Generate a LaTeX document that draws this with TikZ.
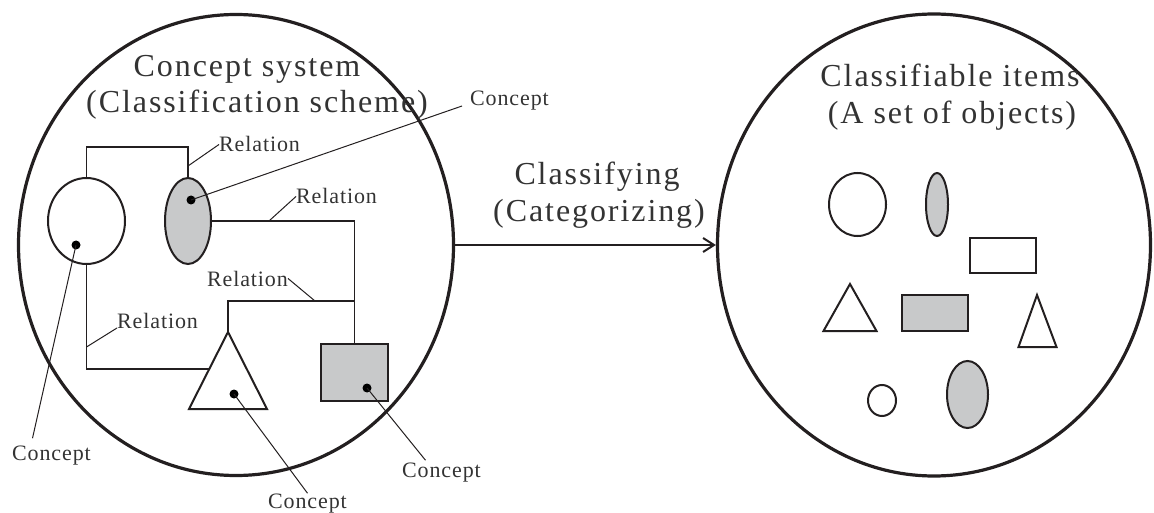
\documentclass[tikz,border=0pt]{standalone}
\usepackage{fontspec}
\setmainfont{Liberation Serif}
\newfontfamily\titlefont[LetterSpace=6]{Liberation Serif}
\newfontfamily\labelfont[LetterSpace=4]{Liberation Serif}
\usetikzlibrary{shapes.geometric,arrows.meta,calc}
\definecolor{ink}{HTML}{231F20}
\definecolor{txt}{HTML}{333333}
\definecolor{shade}{HTML}{C8C9CA}
\tikzset{
  bigring/.style={draw=ink, line width=3.2pt, ellipse, inner sep=0},
  shp/.style={draw=ink, line width=2pt, inner sep=0},
  conn/.style={draw=ink, line width=1.7pt},
  leader/.style={draw=ink, line width=1pt},
  dotm/.style={circle, fill=black, inner sep=0, minimum size=9pt},
  ttl/.style={font=\titlefont\fontsize{32}{36}\selectfont, text=txt, inner sep=0, anchor=base},
  lab/.style={font=\labelfont\fontsize{22}{24}\selectfont, text=txt, inner sep=0, anchor=base west}
}
\begin{document}
\begin{tikzpicture}[x=1pt,y=-1pt]
\useasboundingbox (0,0) rectangle (1154,513);
% big rings
\node[bigring, minimum width=435pt, minimum height=461pt] (sysL) at (236,245) {};
\node[bigring, minimum width=433pt, minimum height=462pt] (sysR) at (934,245) {};
% titles
\node[ttl] (tL1) at (247,77) {Concept system};
\node[ttl] (tL2) at (257,113) {(Classification scheme)};
\node[ttl] (tR1) at (950,87) {Classifiable items};
\node[ttl] (tR2) at (952,124) {(A set of objects)};
\node[ttl] (tA1) at (597,185) {Classifying};
\node[ttl] (tA2) at (599,222) {(Categorizing)};
% arrow
\draw[ink, line width=2pt, -{Straight Barb[length=11pt,width=14pt]}] (sysL.east) -- (sysR.west);
% left concept shapes (positions)
\coordinate (tA) at (228,332);
\coordinate (tBL) at (189,409);
\coordinate (tBR) at (267,409);
\node[shp, ellipse, minimum width=77pt, minimum height=86pt] (cA) at (86.5,221) {};
\node[shp, ellipse, fill=shade, minimum width=46pt, minimum height=86pt] (cB) at (188,221) {};
\node[shp, rectangle, fill=shade, line width=2.3pt, minimum width=67pt, minimum height=57pt] (cD) at (354.5,372.5) {};
% relations
\coordinate (j3) at (354.5,301);
\coordinate (tW) at ($(tA)!0.48!(tBL)$);
\draw[conn] (cA.north) -- ++(0,-30) -| (cB.north);
\draw[conn] (cB.east) -| (cD.north);
\draw[conn] (tA) |- (j3);
\draw[conn] (cA.south) |- (tW);
\draw[ink, line width=2pt, line join=miter, fill=white] (tA) -- (tBL) -- (tBR) -- cycle;
% relation labels
\node[lab] (r1) at (219,152) {Relation};
\node[lab] (r2) at (296,204) {Relation};
\node[lab, anchor=base east] (r3) at (288,286) {Relation};
\node[lab] (r4) at (117,328) {Relation};
\coordinate (p1) at ($(cB.north)+(0,-11)$);
\coordinate (p2) at (269,221);
\coordinate (p3) at (315,301);
\coordinate (p4) at (86.5,347);
\draw[leader] (p1) -- (r1.west);
\draw[leader] (p2) -- (r2.west);
\draw[leader] (p3) -- (r3.east);
\draw[leader] (p4) -- (r4.base west);
% concept dots and labels
\node[dotm] (d1) at (76,245) {};
\node[dotm] (d2) at (191,200) {};
\node[dotm] (d3) at (234,394) {};
\node[dotm] (d4) at (367,388) {};
\node[lab] (k1) at (12,460) {Concept};
\node[lab] (k2) at (470,106) {Concept};
\node[lab, anchor=base] (k3) at (307.5,508) {Concept};
\node[lab] (k4) at (402,477) {Concept};
\draw[leader] (d1.center) -- ([shift={(-19pt,7pt)}]k1.north);
\draw[leader] (d2.center) -- ([xshift=-8pt]k2.base west);
\draw[leader] (d3.center) -- (k3.north);
\draw[leader] (d4.center) -- ([shift={(-16pt,2pt)}]k4.north);
% right items
\node[shp, ellipse, minimum width=57pt, minimum height=63pt] (o1) at (857.5,204.5) {};
\node[shp, ellipse, fill=shade, minimum width=22pt, minimum height=63pt] (o2) at (937,204.5) {};
\node[shp, rectangle, minimum width=66pt, minimum height=35pt] (o3) at (1003,255.5) {};
\coordinate (o4a) at (850,284);
\coordinate (o4b) at (823.5,331);
\coordinate (o4c) at (876.5,331);
\draw[ink, line width=2pt, line join=miter] (o4a) -- (o4b) -- (o4c) -- cycle;
\node[shp, rectangle, fill=shade, minimum width=66pt, minimum height=36pt] (o5) at (935,313) {};
\coordinate (o6a) at (1037,295);
\coordinate (o6b) at (1018.5,347);
\coordinate (o6c) at (1056.5,347);
\draw[ink, line width=2pt, line join=miter] (o6a) -- (o6b) -- (o6c) -- cycle;
\node[shp, ellipse, minimum width=28pt, minimum height=31pt] (o7) at (882,400.5) {};
\node[shp, ellipse, fill=shade, minimum width=41pt, minimum height=67pt] (o8) at (967.5,394.5) {};
\end{tikzpicture}
\end{document}
